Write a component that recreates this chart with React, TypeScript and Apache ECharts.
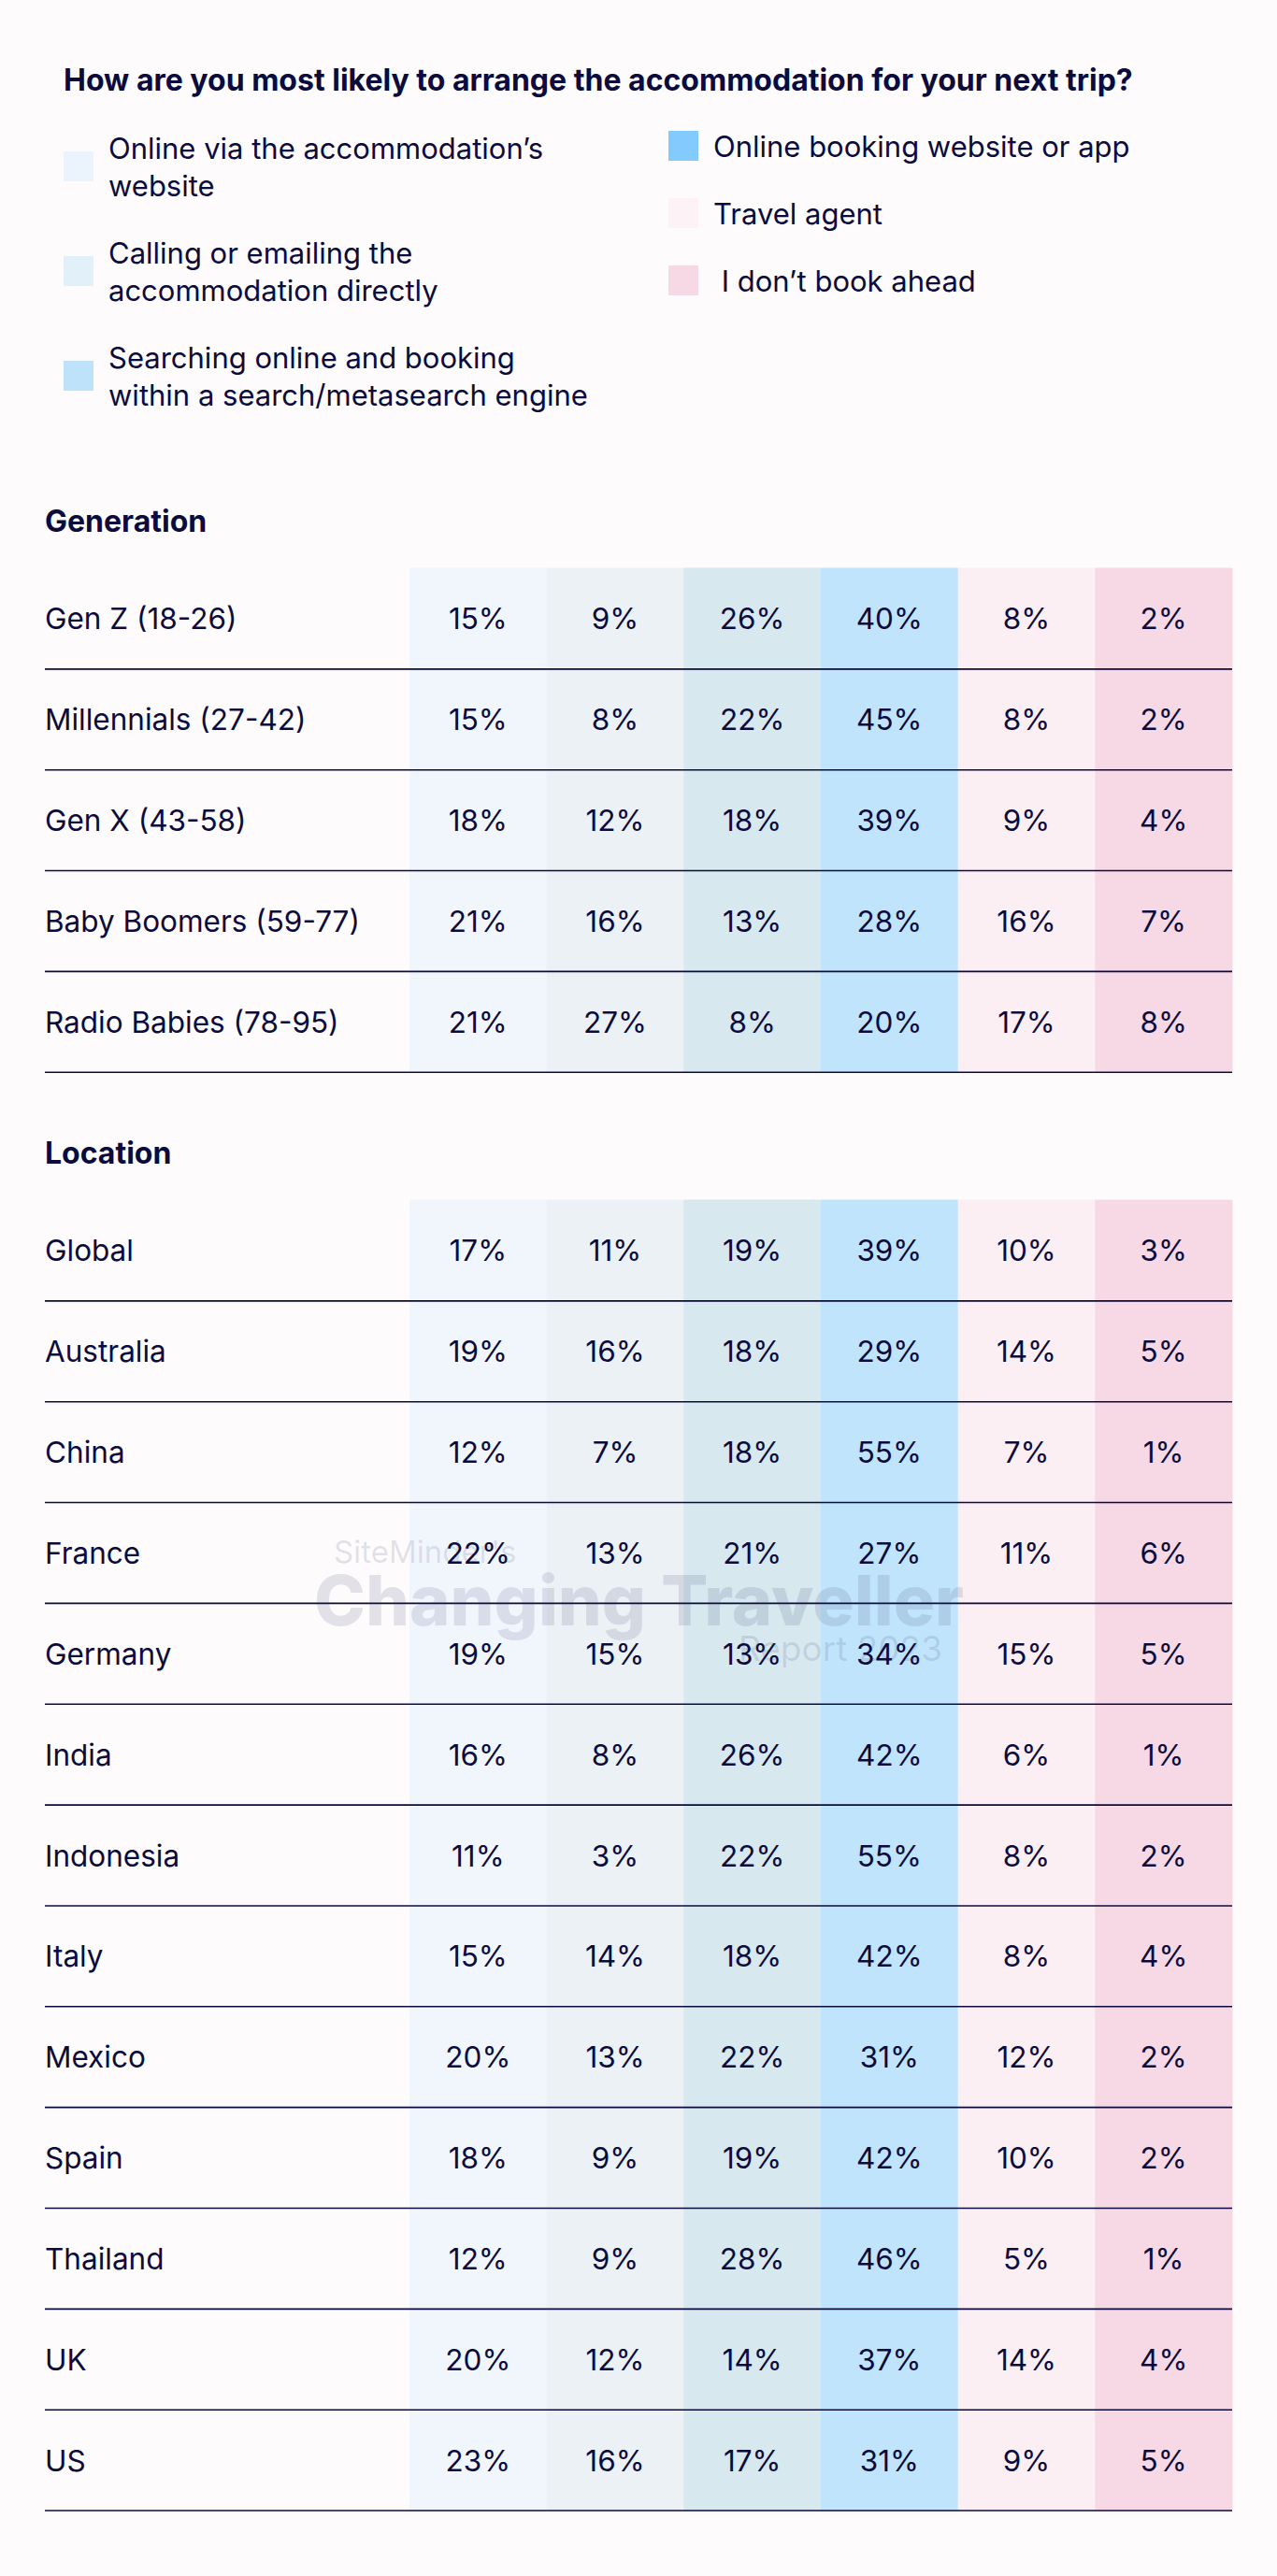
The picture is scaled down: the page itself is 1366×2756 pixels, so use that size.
import React, { useEffect, useRef } from "react";
import * as echarts from "echarts";

const questionTitle = "How are you most likely to arrange the accommodation for your next trip?";
const methodNames = [
  "Online via the accommodation’s website",
  "Calling or emailing the accommodation directly",
  "Searching online and booking within a search/metasearch engine",
  "Online booking website or app",
  "Travel agent",
  "I don’t book ahead",
];
const legendLabels = [
  "Online via the accommodation’s\nwebsite",
  "Calling or emailing the\naccommodation directly",
  "Searching online and booking\nwithin a search/metasearch engine",
  "Online booking website or app",
  "Travel agent",
  " I don’t book ahead",
];
const legendColors = ["#EBF4FC", "#E2F0FA", "#BEE2FA", "#84CBFD", "#FDF2F5", "#F6D9E4"];
const columnColors = ["#F1F6FD", "#EBF1F5", "#D7E8EF", "#C0E4FC", "#FCEFF4", "#F6D9E4"];

const sectionTitles = ["Generation", "Location"];

const generationLabels = [
  "Gen Z (18-26)",
  "Millennials (27-42)",
  "Gen X (43-58)",
  "Baby Boomers (59-77)",
  "Radio Babies (78-95)",
];
const generationValues = [
  [15, 9, 26, 40, 8, 2],
  [15, 8, 22, 45, 8, 2],
  [18, 12, 18, 39, 9, 4],
  [21, 16, 13, 28, 16, 7],
  [21, 27, 8, 20, 17, 8],
];

const locationLabels = [
  "Global",
  "Australia",
  "China",
  "France",
  "Germany",
  "India",
  "Indonesia",
  "Italy",
  "Mexico",
  "Spain",
  "Thailand",
  "UK",
  "US",
];
const locationValues = [
  [17, 11, 19, 39, 10, 3],
  [19, 16, 18, 29, 14, 5],
  [12, 7, 18, 55, 7, 1],
  [22, 13, 21, 27, 11, 6],
  [19, 15, 13, 34, 15, 5],
  [16, 8, 26, 42, 6, 1],
  [11, 3, 22, 55, 8, 2],
  [15, 14, 18, 42, 8, 4],
  [20, 13, 22, 31, 12, 2],
  [18, 9, 19, 42, 10, 2],
  [12, 9, 28, 46, 5, 1],
  [20, 12, 14, 37, 14, 4],
  [23, 16, 17, 31, 9, 5],
];

const watermarkTexts = ["SiteMinder's", "Changing Traveller", "Report 2023"];

const NAVY = "#0B0B3D";
const BG = "#FDFBFC";
const FONT = "Inter";
const FS = 31.5;
const FS_LEGEND = 31;
const FS_TITLE = 32;
const ROW_H = 107.85;
const LABEL_COL = 390;

export default function App() {
  const ref = useRef<HTMLDivElement>(null);

  useEffect(() => {
    document.body.style.margin = "0";
    document.body.style.background = BG;
    if (!ref.current) return;
    const chart = echarts.init(ref.current, undefined, { renderer: "svg" });

    const sections = [
      { labels: generationLabels, values: generationValues, top: 608 },
      { labels: locationLabels, values: locationValues, top: 1284 },
    ];

    const grids = sections.map((s) => ({
      left: 438,
      right: 48,
      top: s.top,
      height: s.labels.length * ROW_H,
    }));

    const xAxes = sections.map((_, g) => ({
      type: "category",
      gridIndex: g,
      data: methodNames,
      show: false,
    }));

    const yAxes = sections.map((s, g) => ({
      type: "category",
      gridIndex: g,
      inverse: true,
      data: s.labels,
      axisLine: { show: false },
      axisTick: { show: false },
      splitLine: { show: false },
      axisLabel: {
        interval: 0,
        margin: LABEL_COL,
        align: "left",
        color: NAVY,
        fontSize: FS,
        fontFamily: FONT,
      },
    }));

    const series: any[] = [];
    sections.forEach((s, g) => {
      methodNames.forEach((name, m) => {
        series.push({
          type: "custom",
          name,
          xAxisIndex: g,
          yAxisIndex: g,
          z: 2,
          itemStyle: { color: columnColors[m] },
          data: s.values.map((row, i) => [m, i, row[m]]),
          renderItem: (params: any, api: any) => {
            const col = api.value(0);
            const r = api.value(1);
            const v = api.value(2);
            const c = api.coord([col, r]);
            const sz = api.size([1, 1]);
            return {
              type: "group",
              children: [
                {
                  type: "rect",
                  shape: {
                    x: c[0] - sz[0] / 2,
                    y: c[1] - sz[1] / 2 - 0.5,
                    width: sz[0] + 0.5,
                    height: sz[1] + 1,
                  },
                  style: { fill: columnColors[m] },
                },
                {
                  type: "text",
                  x: c[0],
                  y: c[1],
                  z2: 20,
                  style: {
                    text: v + "%",
                    fill: NAVY,
                    fontSize: FS,
                    fontFamily: FONT,
                    textAlign: "center",
                    textVerticalAlign: "middle",
                  },
                },
              ],
            };
          },
        });
      });
      series.push({
        type: "custom",
        name: "rules" + g,
        xAxisIndex: g,
        yAxisIndex: g,
        z: 5,
        data: s.labels.map((_, i) => [0, i]),
        renderItem: (params: any, api: any) => {
          const c = api.coord([0, api.value(1)]);
          const sz = api.size([1, 1]);
          const left = c[0] - sz[0] / 2;
          const y = c[1] + sz[1] / 2;
          return {
            type: "line",
            shape: { x1: left - LABEL_COL, y1: y, x2: left + methodNames.length * sz[0], y2: y },
            style: { stroke: NAVY, lineWidth: 1.6 },
          };
        },
      });
    });

    const legendCommon = {
      orient: "vertical",
      icon: "rect",
      itemWidth: 32,
      itemHeight: 32,
      itemGap: 32,
      selectedMode: false,
      padding: 0,
      formatter: (name: string) => legendLabels[methodNames.indexOf(name)],
      textStyle: {
        color: NAVY,
        fontSize: FS_LEGEND,
        fontFamily: FONT,
        lineHeight: 40,
        padding: [0, 0, 0, 11],
      },
    };

    const wmFill = "rgba(40,40,90,0.12)";

    const option: any = {
      animation: false,
      backgroundColor: BG,
      title: [
        {
          text: questionTitle,
          left: 68,
          top: 65,
          padding: 0,
          textStyle: { color: NAVY, fontSize: FS_TITLE, fontWeight: 700, fontFamily: FONT, lineHeight: 40 },
        },
        ...sectionTitles.map((t, i) => ({
          text: t,
          left: 48,
          top: i === 0 ? 537 : 1213,
          padding: 0,
          textStyle: { color: NAVY, fontSize: FS_TITLE, fontWeight: 700, fontFamily: FONT, lineHeight: 40 },
        })),
      ],
      legend: [
        {
          ...legendCommon,
          left: 68,
          top: 138,
          data: methodNames.slice(0, 3).map((n, i) => ({ name: n, itemStyle: { color: legendColors[i] } })),
        },
        {
          ...legendCommon,
          left: 715,
          top: 136,
          data: methodNames.slice(3).map((n, i) => ({ name: n, itemStyle: { color: legendColors[i + 3] } })),
        },
      ],
      grid: grids,
      xAxis: xAxes,
      yAxis: yAxes,
      series,
      graphic: [
        {
          type: "text",
          x: 357,
          y: 1660,
          z: 10,
          style: {
            text: watermarkTexts[0],
            fill: wmFill,
            fontSize: 33,
            fontFamily: FONT,
            textAlign: "left",
            textVerticalAlign: "middle",
          },
        },
        {
          type: "text",
          x: 336,
          y: 1712,
          z: 10,
          style: {
            text: watermarkTexts[1],
            fill: wmFill,
            fontSize: 74,
            fontWeight: 800,
            fontFamily: FONT,
            textAlign: "left",
            textVerticalAlign: "middle",
          },
        },
        {
          type: "text",
          x: 790,
          y: 1763,
          z: 10,
          style: {
            text: watermarkTexts[2],
            fill: wmFill,
            fontSize: 37,
            fontFamily: FONT,
            textAlign: "left",
            textVerticalAlign: "middle",
          },
        },
      ],
    };

    chart.setOption(option);
    return () => chart.dispose();
  }, []);

  return <div ref={ref} style={{ width: 1366, height: 2756 }} />;
}
